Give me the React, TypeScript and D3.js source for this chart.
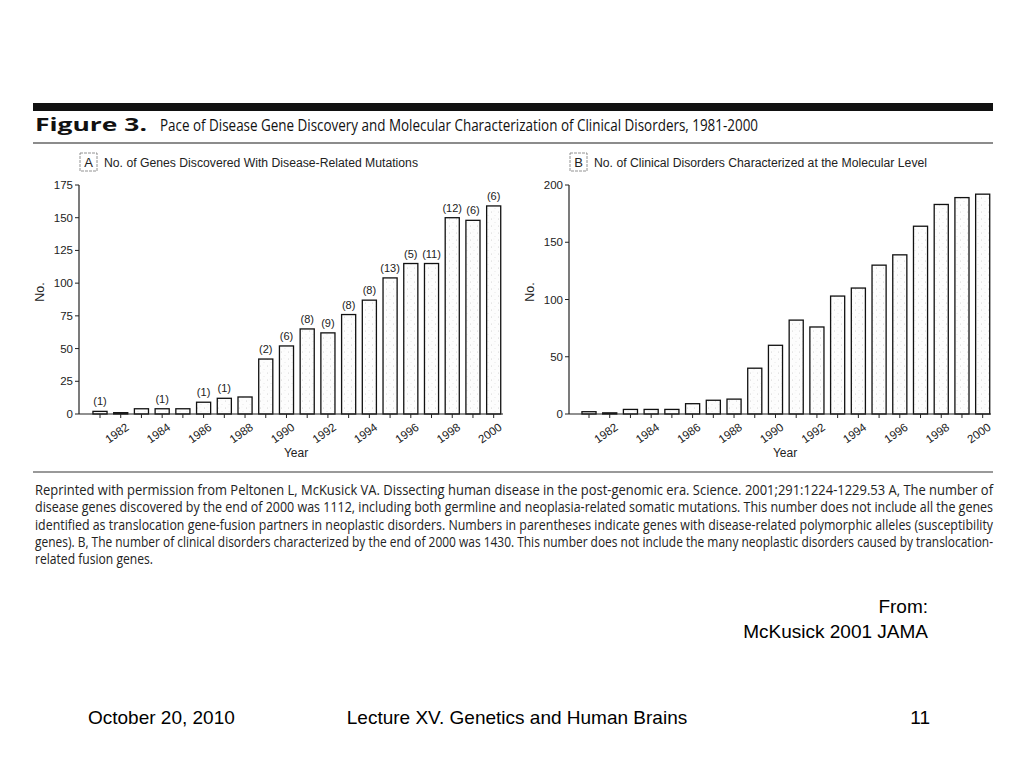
import React from "react";
import * as d3 from "d3";

const years = [1981, 1982, 1983, 1984, 1985, 1986, 1987, 1988, 1989, 1990, 1991, 1992, 1993, 1994, 1995, 1996, 1997, 1998, 1999, 2000];
const genesA = [2, 1, 4, 4, 4, 9, 12, 13, 42, 52, 65, 62, 76, 87, 104, 115, 115, 150, 148, 159];
const polyA = ["(1)", "", "", "(1)", "", "(1)", "(1)", "", "(2)", "(6)", "(8)", "(9)", "(8)", "(8)", "(13)", "(5)", "(11)", "(12)", "(6)", "(6)"];
const disordersB = [2, 1, 4, 4, 4, 9, 12, 13, 40, 60, 82, 76, 103, 110, 130, 139, 164, 183, 189, 192];
const ticksA = [0, 25, 50, 75, 100, 125, 150, 175];
const ticksB = [0, 50, 100, 150, 200];
const yearLabels = [1982, 1984, 1986, 1988, 1990, 1992, 1994, 1996, 1998, 2000];

const figureTitle = "Pace of Disease Gene Discovery and Molecular Characterization of Clinical Disorders, 1981-2000";
const titleA = "No. of Genes Discovered With Disease-Related Mutations";
const titleB = "No. of Clinical Disorders Characterized at the Molecular Level";
const captionLines = [
  "Reprinted with permission from Peltonen L, McKusick VA. Dissecting human disease in the post-genomic era. Science. 2001;291:1224-1229.53 A, The number of",
  "disease genes discovered by the end of 2000 was 1112, including both germline and neoplasia-related somatic mutations. This number does not include all the genes",
  "identified as translocation gene-fusion partners in neoplastic disorders. Numbers in parentheses indicate genes with disease-related polymorphic alleles (susceptibility",
  "genes). B, The number of clinical disorders characterized by the end of 2000 was 1430. This number does not include the many neoplastic disorders caused by translocation-",
  "related fusion genes.",
];
const captionWidths = [958, 958, 958, 958, 118];

const AX = "Liberation Sans, Arial, sans-serif";
const HUM = "Open Sans, Noto Sans, sans-serif";

type PanelProps = {
  letter: string;
  title: string;
  values: number[];
  labels?: string[];
  ticks: number[];
  yMax: number;
  axisX: number;
  firstCenter: number;
  axisEnd: number;
  titleWidth: number;
};

function Panel(p: PanelProps) {
  const step = 20.72;
  const x = d3
    .scaleBand<number>()
    .domain(years)
    .range([p.firstCenter - step / 2, p.firstCenter - step / 2 + step * years.length])
    .paddingInner(0.32)
    .paddingOuter(0.16);
  const y = d3.scaleLinear().domain([0, p.yMax]).range([414, 185]);
  const bw = x.bandwidth();
  const cx = (yr: number) => (x(yr) as number) + bw / 2;
  return (
    <g>
      <rect x={p.axisX + 1} y={153} width={17} height={18} fill="none" stroke="#777" strokeWidth={0.8} strokeDasharray="3,1" />
      <text x={p.axisX + 9.5} y={167} fontFamily={AX} fontSize={13} textAnchor="middle" fill="#222">{p.letter}</text>
      <text x={p.axisX + 25} y={167} fontFamily={AX} fontSize={12.5} fill="#222" textLength={p.titleWidth} lengthAdjust="spacingAndGlyphs">{p.title}</text>
      {p.values.map((v, i) => (
        <rect key={i} x={x(years[i])} y={y(v)} width={bw} height={y(0) - y(v)} fill="url(#stipple)" stroke="#111" strokeWidth={1.3} />
      ))}
      {p.labels &&
        p.labels.map((l, i) =>
          l ? (
            <text key={i} x={cx(years[i])} y={y(p.values[i]) - 6} fontFamily={AX} fontSize={11} textAnchor="middle" fill="#222">{l}</text>
          ) : null
        )}
      <line x1={p.axisX} x2={p.axisX} y1={y(p.yMax)} y2={y(0)} stroke="#222" strokeWidth={1.2} />
      {p.ticks.map((t) => (
        <g key={t}>
          <line x1={p.axisX - 4} x2={p.axisX} y1={y(t)} y2={y(t)} stroke="#222" strokeWidth={1} />
          <text x={p.axisX - 6} y={y(t) + 4} fontFamily={AX} fontSize={11.5} textAnchor="end" fill="#222">{t}</text>
        </g>
      ))}
      <text transform={`translate(${p.axisX - 35},${292}) rotate(-90)`} fontFamily={AX} fontSize={12.5} textAnchor="middle" fill="#222">No.</text>
      <line x1={p.axisX} x2={p.axisEnd} y1={y(0)} y2={y(0)} stroke="#222" strokeWidth={1.2} />
      {years.map((yr) => (
        <line key={yr} x1={cx(yr)} x2={cx(yr)} y1={y(0)} y2={y(0) + 4} stroke="#222" strokeWidth={1} />
      ))}
      {yearLabels.map((yr) => (
        <text key={yr} transform={`translate(${cx(yr) + 9},${429}) rotate(-35)`} fontFamily={AX} fontSize={11.5} textAnchor="end" fill="#222">{yr}</text>
      ))}
      <text x={(p.axisX + p.axisEnd) / 2 + 5} y={457} fontFamily={AX} fontSize={12} textAnchor="middle" fill="#222">Year</text>
    </g>
  );
}

export default function App() {
  const sx = 0.76;
  return (
    <svg width={1024} height={768} style={{ position: "absolute", left: 0, top: 0, background: "#fff" }}>
      <defs>
        <pattern id="stipple" width="7" height="7" patternUnits="userSpaceOnUse">
          <rect width="7" height="7" fill="#fdfdfd" />
          <circle cx="1.5" cy="2" r="0.5" fill="#c8c8c8" />
          <circle cx="5" cy="5.5" r="0.45" fill="#d2d2d2" />
          <circle cx="4" cy="1" r="0.35" fill="#dadada" />
        </pattern>
      </defs>
      <rect width={1024} height={768} fill="#fff" />
      <rect x={33} y={103} width={960} height={8} fill="#111" />
      <text x={35} y={131} fontFamily={HUM} fontWeight="bold" fontSize={17} fill="#111" textLength={112} lengthAdjust="spacingAndGlyphs">Figure 3.</text>
      <text transform={`translate(160,131) scale(${sx},1)`} fontFamily={HUM} fontSize={17} fill="#111" textLength={598 / sx} lengthAdjust="spacingAndGlyphs">{figureTitle}</text>
      <line x1={33} x2={993} y1={143} y2={143} stroke="#666" strokeWidth={1.5} />

      <Panel letter="A" title={titleA} values={genesA} labels={polyA} ticks={ticksA} yMax={175} axisX={79} firstCenter={100} axisEnd={503} titleWidth={314} />
      <Panel letter="B" title={titleB} values={disordersB} ticks={ticksB} yMax={200} axisX={569} firstCenter={589} axisEnd={991} titleWidth={333} />

      <line x1={33} x2={993} y1={472} y2={472} stroke="#777" strokeWidth={1.5} />
      {captionLines.map((l, i) => (
        <text key={i} transform={`translate(35,${495 + i * 17.3}) scale(0.78,1)`} fontFamily={HUM} fontSize={14} fill="#222"
          textLength={captionWidths[i] / 0.78} lengthAdjust="spacingAndGlyphs">{l}</text>
      ))}

      <text x={928} y={613} fontFamily={AX} fontSize={19} textAnchor="end" fill="#000">From:</text>
      <text x={928} y={638} fontFamily={AX} fontSize={19} textAnchor="end" fill="#000">McKusick 2001 JAMA</text>

      <text x={88} y={724} fontFamily={AX} fontSize={19} fill="#000">October 20, 2010</text>
      <text x={517} y={724} fontFamily={AX} fontSize={19} textAnchor="middle" fill="#000">Lecture XV. Genetics and Human Brains</text>
      <text x={930} y={724} fontFamily={AX} fontSize={19} textAnchor="end" fill="#000">11</text>
    </svg>
  );
}
